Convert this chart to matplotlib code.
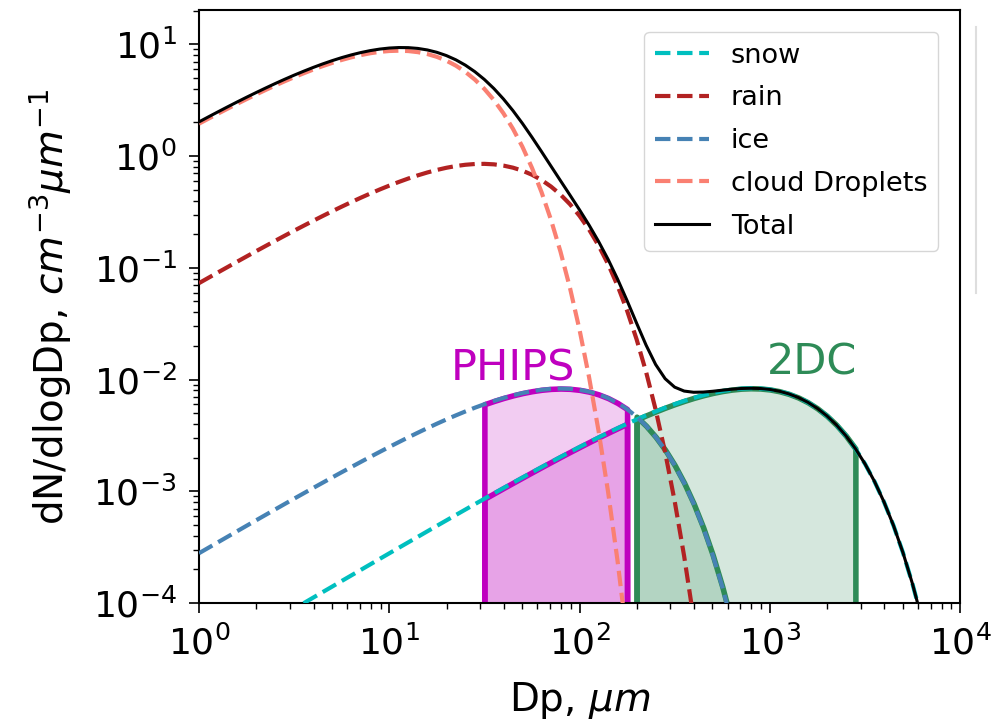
import matplotlib
matplotlib.use("Agg")
import matplotlib.pyplot as plt
import matplotlib.colors as mcolors
import numpy as np
import pandas as pd

nan = float('nan')

# particle diameter grid, um (0.05 decade steps)
Dp = [1.0, 1.122, 1.259, 1.413, 1.585, 1.778, 1.995, 2.239, 2.512, 2.818,
      3.162, 3.548, 3.981, 4.467, 5.012, 5.623, 6.310, 7.079, 7.943, 8.913,
      10.0, 11.22, 12.59, 14.13, 15.85, 17.78, 19.95, 22.39, 25.12, 28.18,
      31.62, 35.48, 39.81, 44.67, 50.12, 56.23, 63.10, 70.79, 79.43, 89.13,
      100.0, 112.2, 125.9, 141.3, 158.5, 177.8, 199.5, 223.9, 251.2, 281.8,
      316.2, 354.8, 398.1, 446.7, 501.2, 562.3, 631.0, 707.9, 794.3, 891.3,
      1000, 1122, 1259, 1413, 1585, 1778, 1995, 2239, 2512, 2818,
      3162, 3548, 3981, 4467, 5012, 5623, 6310, 7079]

# dN/dlogDp, cm^-3 um^-1 (curves stop below 1e-4)
cloud = [1.951, 2.165, 2.400, 2.657, 2.935, 3.236, 3.560, 3.909, 4.281, 4.673,
         5.085, 5.510, 5.949, 6.391, 6.829, 7.256, 7.656, 8.019, 8.330, 8.570,
         8.725, 8.779, 8.715, 8.523, 8.198, 7.737, 7.151, 6.453, 5.672, 4.838,
         3.992, 3.172, 2.417, 1.757, 1.211, 0.786, 0.4777, 0.2693, 0.1396, 0.0659,
         0.02795, 0.01054, 3.477e-3, 9.88e-4, 2.374e-4, 4.73e-5, 7.62e-6]

rain = [0.07294, 0.0815, 0.09105, 0.1016, 0.1134, 0.1264, 0.1409, 0.1568, 0.1744, 0.1937,
        0.2150, 0.2381, 0.2634, 0.2910, 0.3208, 0.3528, 0.3872, 0.4237, 0.4623, 0.5027,
        0.5442, 0.5868, 0.6299, 0.6725, 0.7135, 0.7516, 0.7859, 0.8147, 0.8364, 0.8496,
        0.8524, 0.8438, 0.8223, 0.7879, 0.7406, 0.6813, 0.6115, 0.5341, 0.4526, 0.3707,
        0.2920, 0.2204, 0.1585, 0.1080, 0.06917, 0.0414, 0.02294, 0.01167, 5.389e-3, 2.233e-3,
        8.19e-4, 2.623e-4, 7.20e-5, 1.67e-5]

ice = [2.790e-4, 3.125e-4, 3.500e-4, 3.920e-4, 4.389e-4, 4.912e-4, 5.496e-4, 6.148e-4, 6.876e-4, 7.686e-4,
       8.588e-4, 9.587e-4, 1.070e-3, 1.193e-3, 1.330e-3, 1.481e-3, 1.647e-3, 1.830e-3, 2.032e-3, 2.252e-3,
       2.493e-3, 2.754e-3, 3.039e-3, 3.344e-3, 3.673e-3, 4.022e-3, 4.392e-3, 4.780e-3, 5.183e-3, 5.598e-3,
       6.015e-3, 6.430e-3, 6.838e-3, 7.220e-3, 7.567e-3, 7.865e-3, 8.100e-3, 8.254e-3, 8.313e-3, 8.263e-3,
       8.092e-3, 7.796e-3, 7.372e-3, 6.827e-3, 6.173e-3, 5.440e-3, 4.654e-3, 3.852e-3, 3.072e-3, 2.350e-3,
       1.715e-3, 1.188e-3, 7.757e-4, 4.744e-4, 2.693e-4, 1.407e-4, 6.69e-5, 2.87e-5]

snow = [nan] * 9 + [
        7.91e-5, 8.88e-5, 9.96e-5, 1.117e-4, 1.252e-4, 1.403e-4, 1.574e-4, 1.764e-4, 1.977e-4, 2.216e-4, 2.484e-4,
        2.784e-4, 3.119e-4, 3.493e-4, 3.911e-4, 4.380e-4, 4.902e-4, 5.484e-4, 6.136e-4, 6.861e-4, 7.670e-4,
        8.570e-4, 9.570e-4, 1.068e-3, 1.191e-3, 1.327e-3, 1.478e-3, 1.644e-3, 1.827e-3, 2.029e-3, 2.249e-3,
        2.489e-3, 2.751e-3, 3.035e-3, 3.341e-3, 3.669e-3, 4.019e-3, 4.390e-3, 4.779e-3, 5.184e-3, 5.600e-3,
        6.021e-3, 6.438e-3, 6.848e-3, 7.234e-3, 7.587e-3, 7.889e-3, 8.129e-3, 8.292e-3, 8.357e-3, 8.318e-3,
        8.157e-3, 7.866e-3, 7.447e-3, 6.908e-3, 6.259e-3, 5.525e-3, 4.737e-3, 3.929e-3, 3.143e-3, 2.412e-3,
        1.766e-3, 1.229e-3, 8.055e-4, 4.950e-4, 2.826e-4, 1.486e-4, 7.117e-5, 3.074e-5]

# instrument size ranges, um
phips_range = (31.0, 180.0)
twodc_range = (199.0, 2820.0)

#########################################################

def pad(vals):
    return vals + [nan] * (len(Dp) - len(vals))

df = pd.DataFrame({'snow': pad(snow), 'rain': pad(rain), 'ice': pad(ice),
                   'cloud': pad(cloud)}, index=Dp)
df['total'] = df.sum(axis=1, min_count=1)
x = df.index.values

fig = plt.figure(figsize=(9.93, 7.26), dpi=100)
ax = fig.add_axes([0.2004, 0.1694, 0.7664, 0.8168])

# shaded instrument ranges
phips = (x >= phips_range[0]) & (x <= phips_range[1])
twodc = (x >= twodc_range[0]) & (x <= twodc_range[1])
for col in ['ice', 'snow']:
    ax.fill_between(x, df[col].values, 1e-6, where=phips,
                    facecolor=mcolors.to_rgba('m', 0.2), edgecolor='m', lw=4, zorder=1)
    ax.fill_between(x, df[col].values, 1e-6, where=twodc,
                    facecolor=mcolors.to_rgba('seagreen', 0.2), edgecolor='seagreen', lw=4, zorder=1)

ax.plot(x, df['snow'], '--', color='c', lw=3, label='snow', zorder=3)
ax.plot(x, df['rain'], '--', color='firebrick', lw=3, label='rain', zorder=3)
ax.plot(x, df['ice'], '--', color='steelblue', lw=3, label='ice', zorder=3)
ax.plot(x, df['cloud'], '--', color='salmon', lw=3, label='cloud Droplets', zorder=3)
ax.plot(x, df['total'], '-', color='k', lw=2.2, label='Total', zorder=4)

ax.text(44.7, 0.0099, 'PHIPS', color='m', fontsize=31, ha='center', va='baseline')
ax.text(1677, 0.011, '2DC', color='seagreen', fontsize=31, ha='center', va='baseline')

ax.set_xscale('log')
ax.set_yscale('log')
ax.set_xlim(1, 1e4)
ax.set_ylim(1e-4, 20.3)
ax.set_xlabel(r'Dp, $\mu m$', fontsize=28)
ax.set_ylabel(r'dN/dlogDp, $cm^{-3} \mu m^{-1}$', fontsize=28)
ax.xaxis.set_label_coords(0.5, -0.13)
ax.yaxis.set_label_coords(-0.164, 0.5)
ax.tick_params(which='major', labelsize=26, length=7, width=1.2, pad=9)
ax.tick_params(which='minor', length=4, width=1.0)
for s in ax.spines.values():
    s.set_linewidth(1.5)

ax.legend(loc='upper right', fontsize=19.5, borderaxespad=0.8, labelspacing=0.62)

# edge of a clipped box at the right border
fig.add_artist(plt.Line2D([0.9829, 0.9829], [0.5964, 0.9628], color='0.87', lw=1.5))

plt.savefig('out.png', dpi=100)
